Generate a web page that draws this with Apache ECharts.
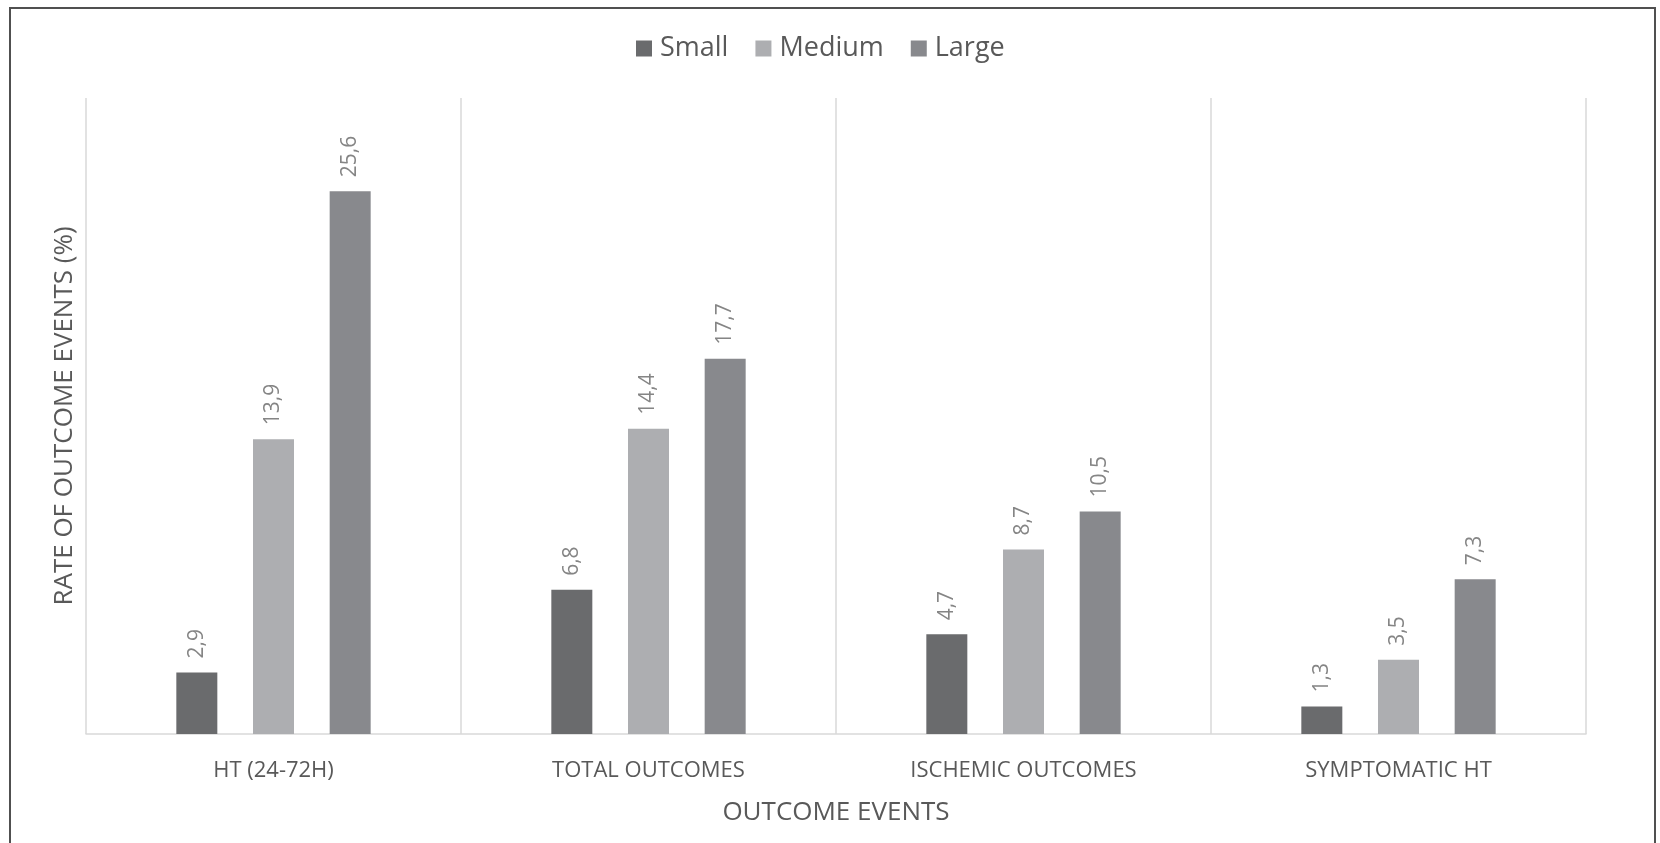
<!DOCTYPE html>
<html>
<head>
<meta charset="utf-8">
<title>Rate of outcome events</title>
<script src="https://cdn.jsdelivr.net/npm/echarts@6/dist/echarts.min.js"></script>
<style>
  html, body { margin: 0; padding: 0; background: #ffffff; }
  #chart { width: 1660px; height: 843px; }
</style>
</head>
<body>
<div id="chart"></div>
<script>
// Outcome event categories and the rate (%) per group
const categories = ['HT (24-72H)', 'TOTAL OUTCOMES', 'ISCHEMIC OUTCOMES', 'SYMPTOMATIC HT'];
const smallValues = [2.9, 6.8, 4.7, 1.3];
const mediumValues = [13.9, 14.4, 8.7, 3.5];
const largeValues = [25.6, 17.7, 10.5, 7.3];
const seriesNames = ['Small', 'Medium', 'Large'];

const FONT = '"Open Sans", "DejaVu Sans", sans-serif';
const colors = ['#6a6b6d', '#adaeb1', '#88898d'];

// Decimal comma for the value labels
const fmt = (p) => String(p.value).replace('.', ',');

function barSeries(name, data, color) {
  return {
    name: name,
    type: 'bar',
    data: data,
    barWidth: 41,
    barGap: '87%',
    itemStyle: { color: color },
    label: {
      show: true,
      position: 'top',
      rotate: 90,
      align: 'left',
      verticalAlign: 'middle',
      distance: 14,
      formatter: fmt,
      color: '#858585',
      fontFamily: FONT,
      fontSize: 21
    }
  };
}

const chart = echarts.init(document.getElementById('chart'), null, { renderer: 'canvas' });

chart.setOption({
  animation: false,
  backgroundColor: '#ffffff',
  color: colors,
  graphic: [{
    type: 'rect',
    shape: { x: 10, y: 8, width: 1645, height: 860 },
    style: { fill: 'none', stroke: '#505050', lineWidth: 2 },
    silent: true
  }],
  legend: {
    data: seriesNames,
    left: 631,
    top: 30,
    itemWidth: 16,
    itemHeight: 16,
    itemGap: 27,
    icon: 'rect',
    textStyle: { color: '#595959', fontFamily: FONT, fontSize: 27, padding: [0, 0, 0, 3] }
  },
  grid: { left: 86, right: 74, top: 98, bottom: 109, containLabel: false },
  xAxis: {
    type: 'category',
    data: categories,
    name: 'OUTCOME EVENTS',
    nameLocation: 'middle',
    nameGap: 66,
    nameTextStyle: { color: '#595959', fontFamily: FONT, fontSize: 26 },
    axisLine: { show: true, lineStyle: { color: '#d9d9d9', width: 1.5 } },
    axisTick: { show: false },
    axisLabel: { color: '#595959', fontFamily: FONT, fontSize: 22, margin: 26 },
    splitLine: { show: true, lineStyle: { color: '#d9d9d9', width: 1.5 } }
  },
  yAxis: {
    type: 'value',
    min: 0,
    max: 30,
    name: 'RATE OF OUTCOME EVENTS (%)',
    nameLocation: 'middle',
    nameGap: 8,
    nameTextStyle: { color: '#595959', fontFamily: FONT, fontSize: 26 },
    axisLine: { show: false },
    axisTick: { show: false },
    axisLabel: { show: false },
    splitLine: { show: false }
  },
  series: [
    barSeries(seriesNames[0], smallValues, colors[0]),
    barSeries(seriesNames[1], mediumValues, colors[1]),
    barSeries(seriesNames[2], largeValues, colors[2])
  ]
});
</script>
</body>
</html>
